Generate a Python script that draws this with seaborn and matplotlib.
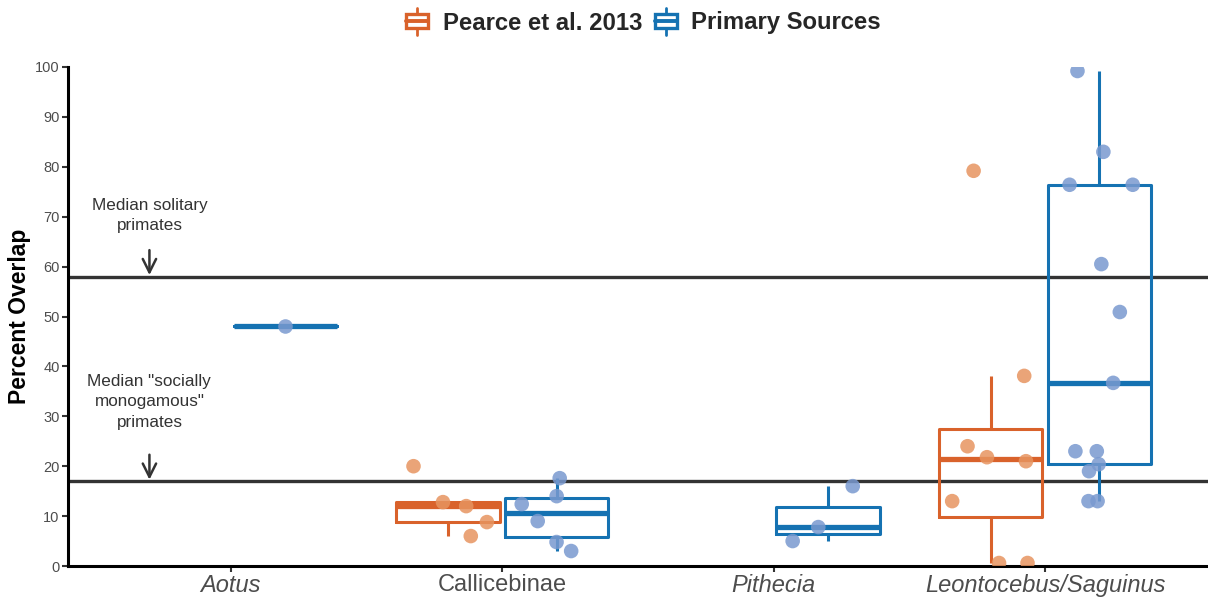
import numpy as np
import pandas as pd
import matplotlib
matplotlib.use("Agg")
import matplotlib.pyplot as plt
import seaborn as sns
from matplotlib.legend_handler import HandlerBase
from matplotlib.patches import Rectangle
from matplotlib.lines import Line2D

# ---- data -----------------------------------------------------------------
taxa = ["Aotus", "Callicebinae", "Pithecia", "Leontocebus/Saguinus"]
italic_taxa = {"Aotus", "Pithecia", "Leontocebus/Saguinus"}
sources = ["Pearce et al. 2013", "Primary Sources"]

pearce_callicebinae = [20.0, 6.0, 12.8, 12.0, 8.8]
pearce_leontocebus = [79.2, 38.1, 24.0, 21.8, 21.0, 13.0, 0.6, 0.6]

primary_aotus = [48.0]
primary_callicebinae = [17.6, 14.0, 12.4, 9.0, 4.8, 3.0]
primary_pithecia = [16.0, 7.8, 5.0]
primary_leontocebus = [99.2, 83.0, 76.4, 76.4, 60.5, 50.9, 36.7,
                       23.0, 23.0, 20.4, 19.0, 13.0, 13.0]

median_solitary = 58.0
median_monogamous = 17.0

y_ticks = list(range(0, 101, 10))

# ---- long table -------------------------------------------------------------
groups = [
    ("Callicebinae", sources[0], pearce_callicebinae),
    ("Leontocebus/Saguinus", sources[0], pearce_leontocebus),
    ("Aotus", sources[1], primary_aotus),
    ("Callicebinae", sources[1], primary_callicebinae),
    ("Pithecia", sources[1], primary_pithecia),
    ("Leontocebus/Saguinus", sources[1], primary_leontocebus),
]
rows = [(taxon, src, v) for taxon, src, vals in groups for v in vals]
df = pd.DataFrame(rows, columns=["taxon", "source", "overlap"])

box_colors = {sources[0]: "#D9622B", sources[1]: "#1572B2"}
point_colors = {sources[0]: "#E79460", sources[1]: "#7999CF"}
ref_color = "#333333"

# ---- figure -----------------------------------------------------------------
sns.set_theme(style="white")
plt.rcParams["font.family"] = ["Liberation Sans", "DejaVu Sans"]

W, H = 1208, 601
fig = plt.figure(figsize=(W / 100, H / 100), dpi=100)
ax = fig.add_axes([68 / W, 35 / H, 1140 / W, 499 / H])

# reference medians
ax.axhline(median_solitary, color=ref_color, lw=2.4, zorder=1)
ax.axhline(median_monogamous, color=ref_color, lw=2.4, zorder=1)

sns.boxplot(data=df, x="taxon", y="overlap", hue="source",
            order=taxa, hue_order=sources, palette=box_colors,
            fill=False, dodge=True, width=0.8, gap=0.05, linewidth=2.2,
            showfliers=False, whis=1.5,
            medianprops={"linewidth": 3.8},
            capprops={"linewidth": 0},
            legend=False, ax=ax, zorder=2)

np.random.seed(7)
sns.stripplot(data=df, x="taxon", y="overlap", hue="source",
              order=taxa, hue_order=sources, palette=point_colors,
              dodge=True, jitter=0.3, size=10.5, alpha=0.85, linewidth=0,
              legend=False, ax=ax, zorder=3)

ax.set_xlim(-0.6, 3.6)
ax.set_ylim(0, 100)
ax.set_yticks(y_ticks)
ax.set_xticks(range(len(taxa)))
ax.set_xticklabels(taxa)
for lab in ax.get_xticklabels():
    lab.set_fontstyle("italic" if lab.get_text() in italic_taxa else "normal")
    lab.set_fontsize(17)
    lab.set_color("#4D4D4D")

ax.tick_params(axis="y", labelsize=10.5, labelcolor="#4D4D4D", color=ref_color,
               length=4, width=1.5, left=True, pad=2)
ax.tick_params(axis="x", color=ref_color, length=4, width=1.5, bottom=True, pad=2)

ax.set_xlabel("")
ax.set_ylabel("Percent Overlap", fontsize=16.5, fontweight="bold", color="black", labelpad=3)

for side in ("top", "right"):
    ax.spines[side].set_visible(False)
for side in ("left", "bottom"):
    ax.spines[side].set_color("black")
    ax.spines[side].set_linewidth(2.2)

# annotations for the reference lines
arrow_kw = dict(arrowstyle="->", color=ref_color, lw=1.8, mutation_scale=24,
                shrinkA=0, shrinkB=0)
ax.text(-0.3, 70.2, "Median solitary\nprimates", ha="center", va="center",
        fontsize=12.3, color=ref_color, linespacing=1.45)
ax.annotate("", xy=(-0.3, 58.3), xytext=(-0.3, 63.3), arrowprops=arrow_kw)
ax.text(-0.3, 32.9, 'Median "socially\nmonogamous"\nprimates', ha="center", va="center",
        fontsize=12.3, color=ref_color, linespacing=1.45)
ax.annotate("", xy=(-0.3, 17.3), xytext=(-0.3, 22.3), arrowprops=arrow_kw)


# ---- legend with box-shaped keys ------------------------------------------
class BoxKeyHandler(HandlerBase):
    def create_artists(self, legend, orig_handle, xdescent, ydescent,
                       width, height, fontsize, trans):
        c = orig_handle.get_color()
        x0, y0 = -xdescent, -ydescent
        rect = Rectangle((x0 + 0.06 * width, y0 + 0.12 * height),
                         0.88 * width, 0.76 * height,
                         facecolor="white", edgecolor=c, lw=2.4, transform=trans)
        xm = x0 + width / 2
        ym = y0 + height / 2
        med = Line2D([x0 + 0.06 * width, x0 + 0.94 * width], [ym, ym],
                     color=c, lw=2.8, transform=trans)
        w1 = Line2D([xm, xm], [y0 - 0.2 * height, y0 + 0.12 * height],
                    color=c, lw=2.0, transform=trans)
        w2 = Line2D([xm, xm], [y0 + 0.88 * height, y0 + 1.2 * height],
                    color=c, lw=2.0, transform=trans)
        return [rect, med, w1, w2]


handles = [Line2D([], [], color=box_colors[s]) for s in sources]
fig.legend(handles, sources, loc="center", bbox_to_anchor=(643 / W, 1 - 23 / H),
           ncol=2, frameon=False, prop=dict(weight="bold", size=17.2),
           handlelength=1.05, handleheight=0.85, handletextpad=0.55, columnspacing=0.45,
           handler_map={Line2D: BoxKeyHandler()})

fig.savefig("out.png", dpi=100)
